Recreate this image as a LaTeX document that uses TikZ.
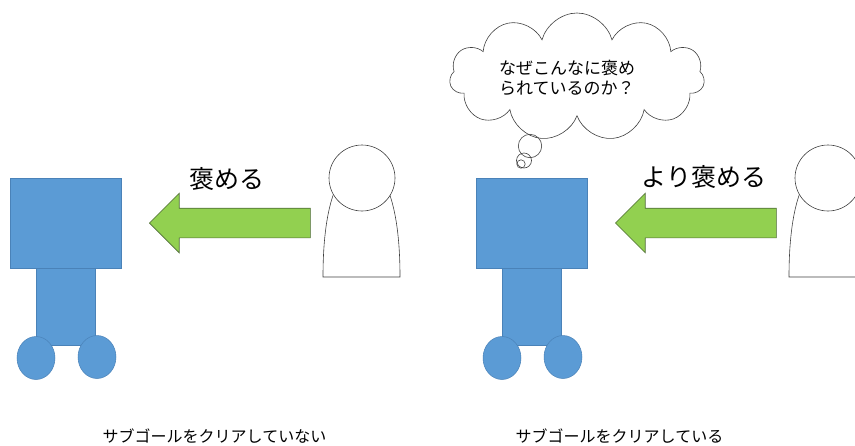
\documentclass[tikz,border=0pt]{standalone}
\usepackage{fontspec}
\setmainfont{Noto Sans CJK JP}
\usetikzlibrary{shapes.geometric,shapes.arrows,shapes.symbols}
\definecolor{robotblue}{HTML}{5B9BD5}
\definecolor{robotline}{HTML}{4A82B8}
\definecolor{praisegreen}{HTML}{92D050}
\definecolor{praiseline}{HTML}{4E6B36}
\definecolor{outline}{HTML}{404040}
\begin{document}
\begin{tikzpicture}[x=1pt,y=-1pt,
  robot/.style={fill=robotblue,draw=robotline,line width=0.5pt},
  praise/.style={single arrow,shape border rotate=180,fill=praisegreen,draw=praiseline,
    line width=0.6pt,minimum height=161pt,minimum width=59pt,
    single arrow head extend=15pt,single arrow tip angle=90,
    inner xsep=0pt,inner ysep=14.5pt,anchor=tip},
  person/.style={draw=outline,fill=white,line width=0.6pt},
  praisetext/.style={font=\fontsize{25}{30}\selectfont},
  caption/.style={font=\fontsize{16}{20}\selectfont}]
\useasboundingbox (0,0) rectangle (855,445);
\clip (0,0) rectangle (855,445);
\begin{scope}
% robot
\filldraw[robot] (36,268) rectangle (95,345);
\filldraw[robot] (10,178) rectangle (121,268);
\filldraw[robot] (36,358) ellipse (19 and 21.5);
\filldraw[robot] (97,357) ellipse (19 and 21.5);
% praise
\node[praise] (praiseA) at (149,223) {};
\node[praisetext] (wordA) at (227,179) {褒める};
% person
\filldraw[person] (323,277) .. controls (323,200) and (340,165) .. (361.5,165)
  .. controls (383,165) and (400,200) .. (400,277) -- cycle;
\filldraw[person] (362,178) circle (33);
\node[caption] (captionA) at (214.5,436) {サブゴールをクリアしていない};
\end{scope}
\begin{scope}[xshift=466pt]
\filldraw[robot] (36,268) rectangle (95,345);
\filldraw[robot] (10,178) rectangle (121,268);
\filldraw[robot] (36,358) ellipse (19 and 21.5);
\filldraw[robot] (97,357) ellipse (19 and 21.5);
\node[praise] (praiseB) at (149,223) {};
\node[praisetext] (wordB) at (238,177) {より褒める};
\filldraw[person] (323,277) .. controls (323,200) and (340,165) .. (361.5,165)
  .. controls (383,165) and (400,200) .. (400,277) -- cycle;
\filldraw[person] (362,178) circle (33);
\node[caption] (captionB) at (153.5,436) {サブゴールをクリアしている};
\end{scope}
% thought bubble
\node[person,cloud,cloud puffs=11,cloud ignores aspect,
  minimum width=255pt,minimum height=128pt] (bubble) at (577,77) {};
\node[font=\fontsize{17}{20}\selectfont,align=left] (thought) at (567,78)
  {なぜこんなに褒め\\られているのか？};
\draw[outline,line width=0.6pt] (530,146) circle (11.7);
\draw[outline,line width=0.6pt] (524,160.5) circle (7.5);
\draw[outline,line width=0.6pt] (521,164) circle (4.2);
\end{tikzpicture}
\end{document}
